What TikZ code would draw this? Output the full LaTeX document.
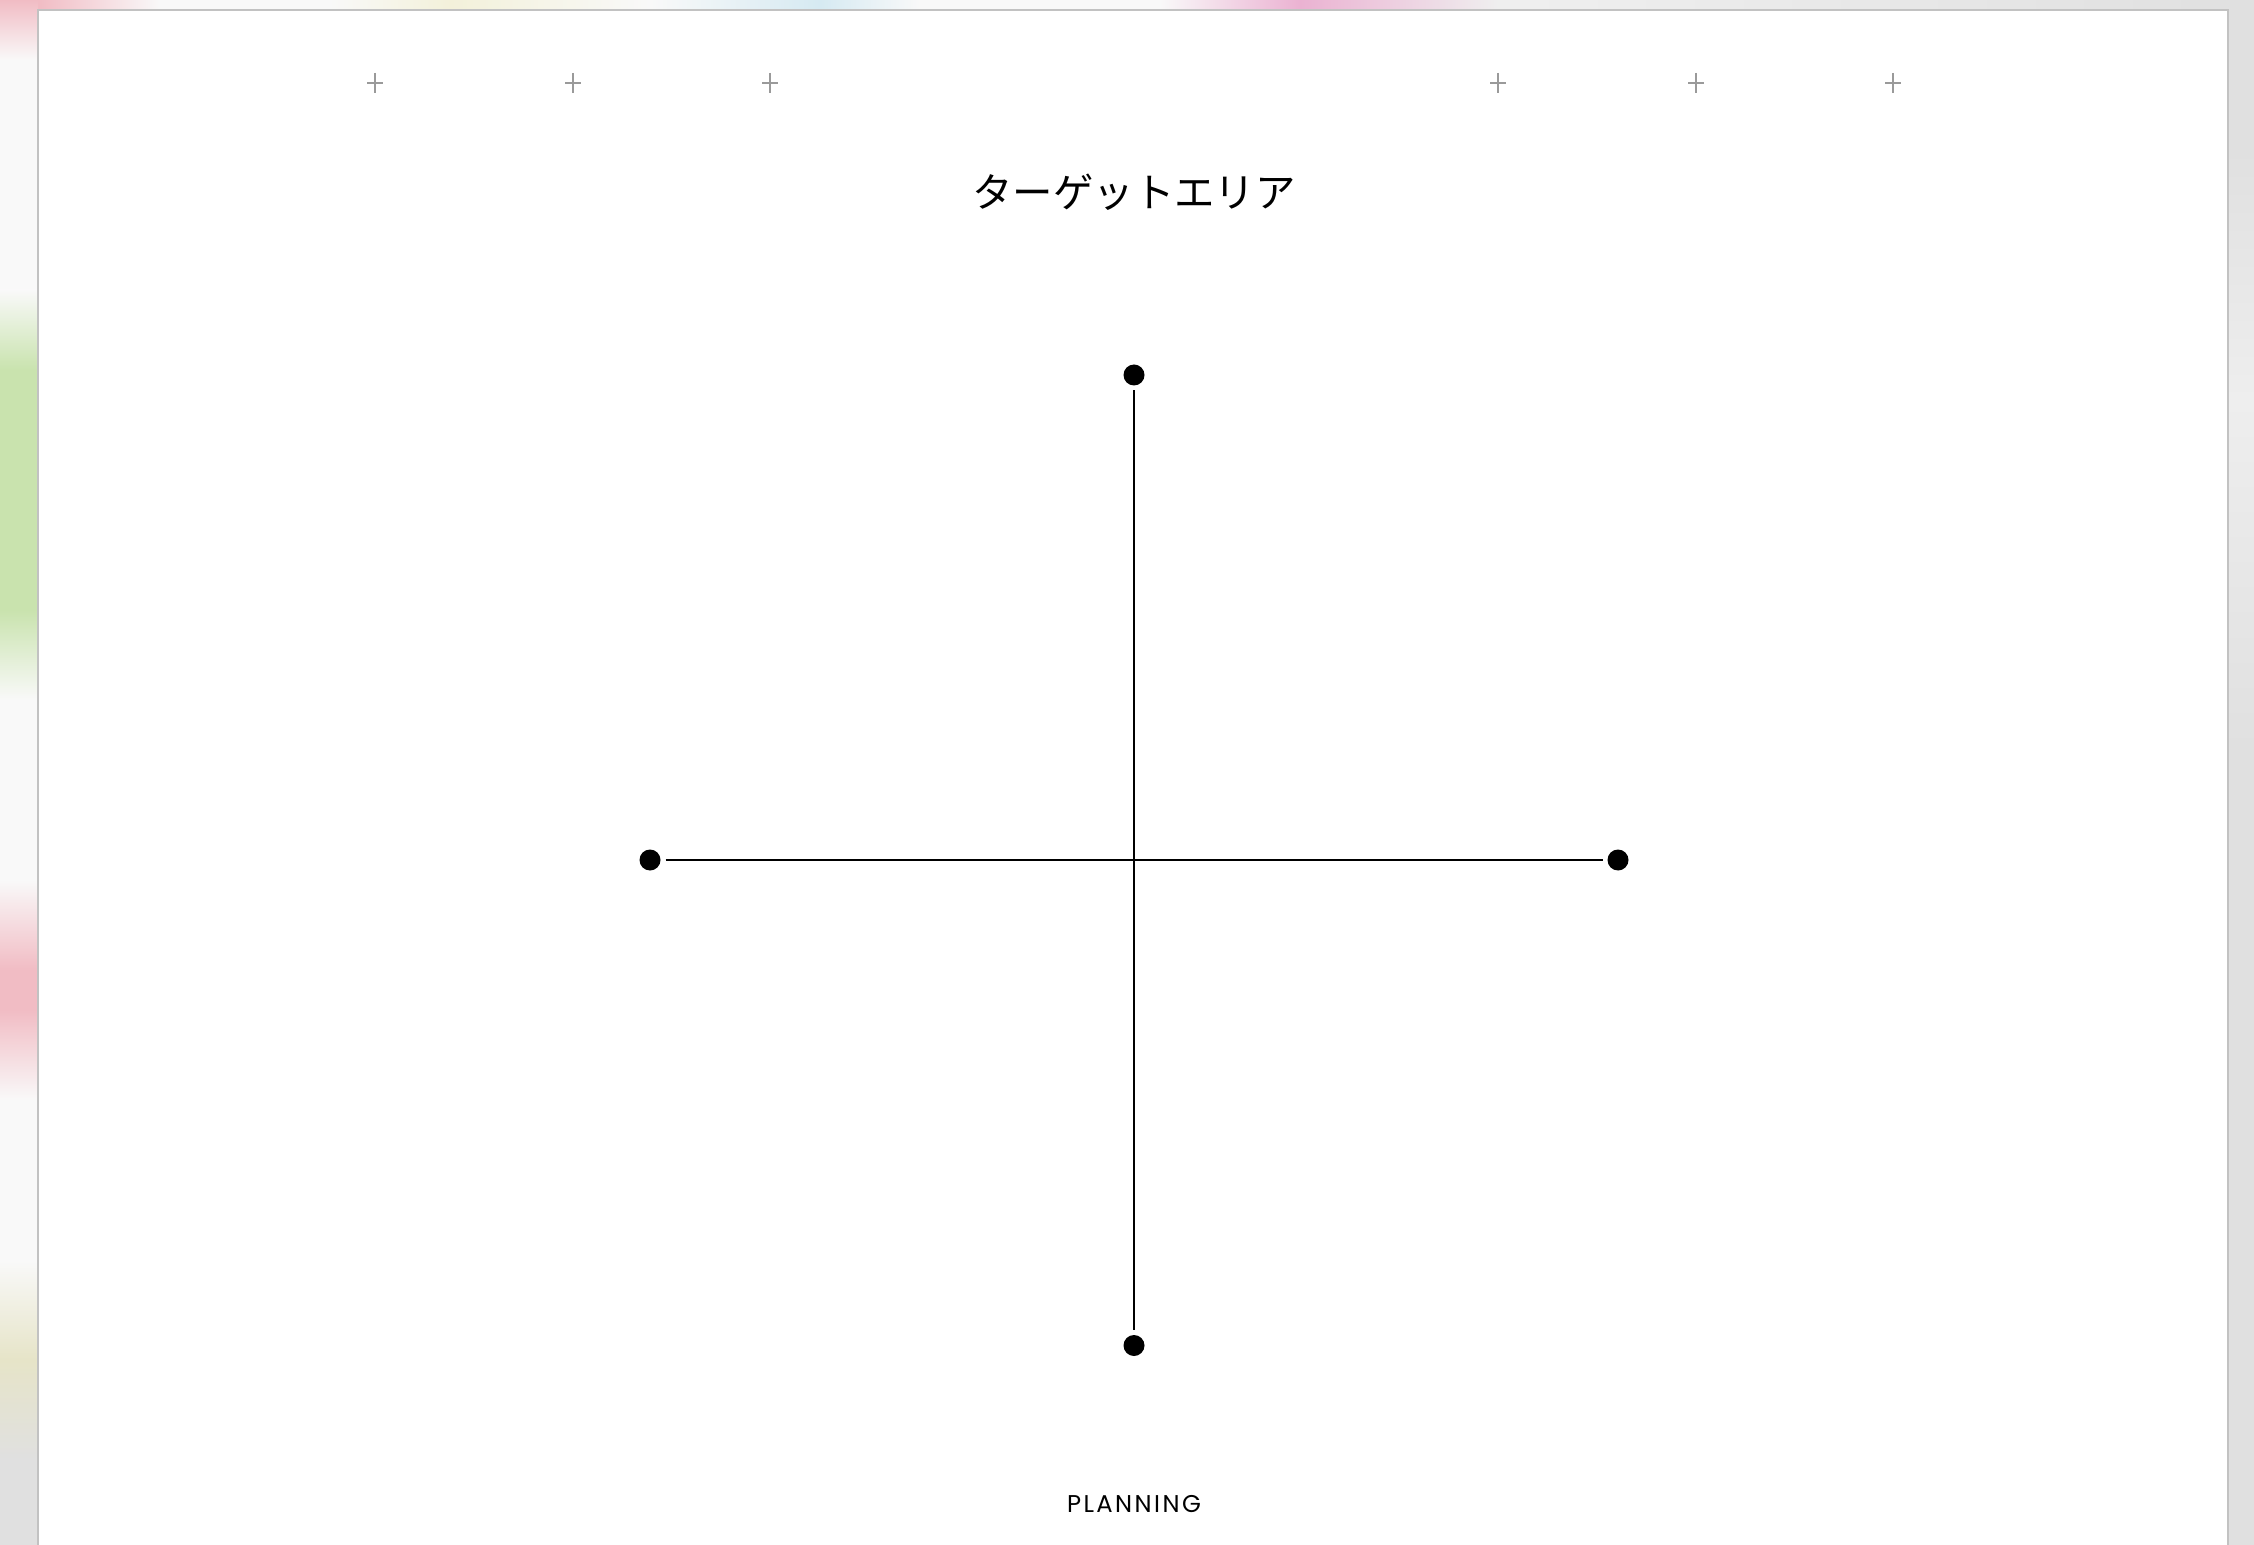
\documentclass[tikz,border=0pt]{standalone}
\usepackage{fontspec}
\setmainfont{Poppins}
\newfontfamily\jpfont{Noto Sans CJK JP}
\newfontfamily\footfont[LetterSpace=10]{Poppins}
\definecolor{bggray}{HTML}{E0E0E0}
\definecolor{offw}{HTML}{F9F9F9}
\definecolor{blobpink}{HTML}{F1BCC4}
\definecolor{blobgreen}{HTML}{C9E3AE}
\definecolor{blobyellow}{HTML}{E6E4C8}
\definecolor{blobtopyellow}{HTML}{F3F1DA}
\definecolor{blobblue}{HTML}{D6EAF2}
\definecolor{blobmagenta}{HTML}{EBB2D2}
\definecolor{pageedge}{HTML}{C2C2C2}
\definecolor{crossgray}{HTML}{9A9A9A}
\tikzset{
  dot/.style={circle, fill=black, draw=none, inner sep=0pt, minimum size=0.21cm, outer sep=0.05cm},
  axis/.style={line width=0.6pt, black},
  crossmark/.style={line width=0.35pt, crossgray},
  vseg/.style={draw=none},
}
\begin{document}
\begin{tikzpicture}[x=1cm,y=1cm]
\useasboundingbox (0,0) rectangle (22.54,-15.45);
% background
\fill[bggray] (0,0) rectangle (22.54,-15.45);
% left strip blobs (vertical shadings)
\shade[vseg, top color=blobpink, bottom color=offw] (0,0) rectangle (0.38,-0.6);
\fill[offw] (0,-0.6) rectangle (0.38,-2.9);
\shade[vseg, top color=offw, bottom color=blobgreen] (0,-2.9) rectangle (0.38,-3.7);
\fill[blobgreen] (0,-3.7) rectangle (0.38,-6.1);
\shade[vseg, top color=blobgreen, bottom color=offw] (0,-6.1) rectangle (0.38,-7.0);
\fill[offw] (0,-7.0) rectangle (0.38,-8.8);
\shade[vseg, top color=offw, bottom color=blobpink] (0,-8.8) rectangle (0.38,-9.7);
\fill[blobpink] (0,-9.7) rectangle (0.38,-10.1);
\shade[vseg, top color=blobpink, bottom color=offw] (0,-10.1) rectangle (0.38,-11.0);
\fill[offw] (0,-11.0) rectangle (0.38,-12.6);
\shade[vseg, top color=offw, bottom color=blobyellow] (0,-12.6) rectangle (0.38,-13.6);
\shade[vseg, top color=blobyellow, bottom color=bggray] (0,-13.6) rectangle (0.38,-14.6);
% top strip blobs (horizontal shadings)
\shade[vseg, left color=blobpink, right color=offw] (0.38,0) rectangle (1.6,-0.10);
\fill[offw] (1.6,0) rectangle (3.3,-0.10);
\shade[vseg, left color=offw, right color=blobtopyellow] (3.3,0) rectangle (4.5,-0.10);
\shade[vseg, left color=blobtopyellow, right color=offw] (4.5,0) rectangle (6.5,-0.10);
\shade[vseg, left color=offw, right color=blobblue] (6.5,0) rectangle (8.2,-0.10);
\shade[vseg, left color=blobblue, right color=offw] (8.2,0) rectangle (9.2,-0.10);
\fill[offw] (9.2,0) rectangle (11.6,-0.10);
\shade[vseg, left color=offw, right color=blobmagenta] (11.6,0) rectangle (13.0,-0.10);
\shade[vseg, left color=blobmagenta, right color=bggray!50!white] (13.0,0) rectangle (15.0,-0.10);
\shade[vseg, left color=bggray!50!white, right color=bggray] (15.0,0) rectangle (22.54,-0.10);
% right strip light band
\shade[vseg, top color=bggray, bottom color=bggray!55!white] (22.28,-1.5) rectangle (22.54,-4.0);
\shade[vseg, top color=bggray!55!white, bottom color=bggray] (22.28,-4.0) rectangle (22.54,-7.5);
% page
\fill[white] (0.38,-0.10) rectangle (22.28,-15.45);
\draw[pageedge, line width=0.6pt] (0.38,-15.45) -- (0.38,-0.10) -- (22.28,-0.10) -- (22.28,-15.45);
% registration crosses
\foreach \cx in {3.75,5.73,7.70,14.98,16.96,18.93}{
  \draw[crossmark] (\cx-0.08,-0.83) -- (\cx+0.08,-0.83);
  \draw[crossmark] (\cx,-0.73) -- (\cx,-0.93);
}
% title
\node[anchor=base, inner sep=0pt] (title) at (11.34,-2.08) {\jpfont\fontsize{11.5}{13}\selectfont ターゲットエリア};
% axes
\coordinate (c) at (11.34,-8.60);
\node[dot] (top) at (11.34,-3.75) {};
\node[dot] (bottom) at (11.34,-13.455) {};
\node[dot] (left) at (6.50,-8.60) {};
\node[dot] (right) at (16.18,-8.60) {};
\draw[axis] (top) -- (bottom);
\draw[axis] (left) -- (right);
% footer
\node[anchor=base, inner sep=0pt] (footer) at (11.34,-15.12) {\footfont\fontsize{6.9}{8}\selectfont PLANNING};
\end{tikzpicture}
\end{document}
